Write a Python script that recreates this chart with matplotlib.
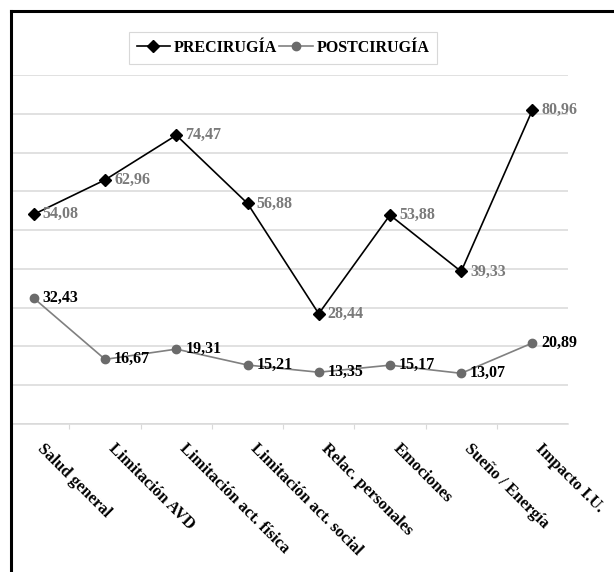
import matplotlib
matplotlib.use("Agg")
import matplotlib.pyplot as plt
from matplotlib.lines import Line2D

categorias = ["Salud general", "Limitación AVD", "Limitación act. física",
              "Limitación act. social", "Relac. personales", "Emociones",
              "Sueño / Energía", "Impacto I.U."]
precirugia = [54.08, 62.96, 74.47, 56.88, 28.44, 53.88, 39.33, 80.96]
postcirugia = [32.43, 16.67, 19.31, 15.21, 13.35, 15.17, 13.07, 20.89]
y_ticks = [0, 10, 20, 30, 40, 50, 60, 70, 80, 90]

plt.rcParams["font.family"] = ["Liberation Serif", "DejaVu Serif"]
plt.rcParams["font.weight"] = "bold"

W, H = 614, 572
fig = plt.figure(figsize=(W / 100, H / 100), dpi=100)

# plot area in pixels: left 12.5, right 568, top 75, bottom 424
ax = fig.add_axes([12.5 / W, (H - 424) / H, (568 - 12.5) / W, (424 - 75) / H])
x = list(range(len(categorias)))

ax.set_xlim(-0.3, 7.5)
ax.set_ylim(0, 90)
ax.set_yticks(y_ticks)
ax.yaxis.grid(True, color="#d9d9d9", linewidth=1.1)
ax.set_axisbelow(True)
for s in ["left", "right", "top"]:
    ax.spines[s].set_visible(False)
ax.spines["bottom"].set_color("#d9d9d9")
ax.spines["bottom"].set_linewidth(1.1)
ax.tick_params(axis="y", left=False, labelleft=False)
ax.set_xticks([i + 0.5 for i in x[:-1]])
ax.tick_params(axis="x", length=3.6, color="#d9d9d9", labelbottom=False)

ax.plot(x, precirugia, color="black", linewidth=1.2, marker="D",
        markersize=6.5, markerfacecolor="black", markeredgecolor="black",
        label="PRECIRUGÍA", clip_on=False, zorder=3)
ax.plot(x, postcirugia, color="#808080", linewidth=1.2, marker="o",
        markersize=6, markerfacecolor="#6b6b6b", markeredgecolor="#6b6b6b",
        label="POSTCIRUGÍA", clip_on=False, zorder=3)

for xi, v in zip(x, precirugia):
    ax.annotate(f"{v:.2f}".replace(".", ","), (xi, v), xytext=(9, 0),
                textcoords="offset pixels", ha="left", va="center",
                fontsize=11.5, fontweight="bold", color="#7a7a7a",
                annotation_clip=False)
for xi, v in zip(x, postcirugia):
    ax.annotate(f"{v:.2f}".replace(".", ","), (xi, v), xytext=(9, 0),
                textcoords="offset pixels", ha="left", va="center",
                fontsize=11.5, fontweight="bold", color="black",
                annotation_clip=False)

for xi, c in zip(x, categorias):
    ax.annotate(c, (xi, 0), xytext=(11, -17), textcoords="offset pixels",
                ha="left", va="top", rotation=-45, rotation_mode="anchor",
                fontsize=12, fontweight="bold", color="black",
                annotation_clip=False)

leg = fig.legend(loc="center", bbox_to_anchor=(283 / W, 1 - 48 / H), ncol=2,
                 frameon=True, fancybox=False, edgecolor="#cfcfcf",
                 fontsize=11.5, handlelength=2.1, columnspacing=0.1,
                 handletextpad=0.25, borderpad=0.5, borderaxespad=0.0)
leg.get_frame().set_linewidth(0.8)
for t in leg.get_texts():
    t.set_fontweight("bold")

# outer frame (left and top edges visible)
fig.add_artist(Line2D([11 / W, 11 / W], [0, 1 - 11 / H], color="black",
                      linewidth=2.2, transform=fig.transFigure))
fig.add_artist(Line2D([11 / W, 1], [1 - 11 / H, 1 - 11 / H], color="black",
                      linewidth=2.2, transform=fig.transFigure))

fig.savefig("out.png", dpi=100, facecolor="white")
